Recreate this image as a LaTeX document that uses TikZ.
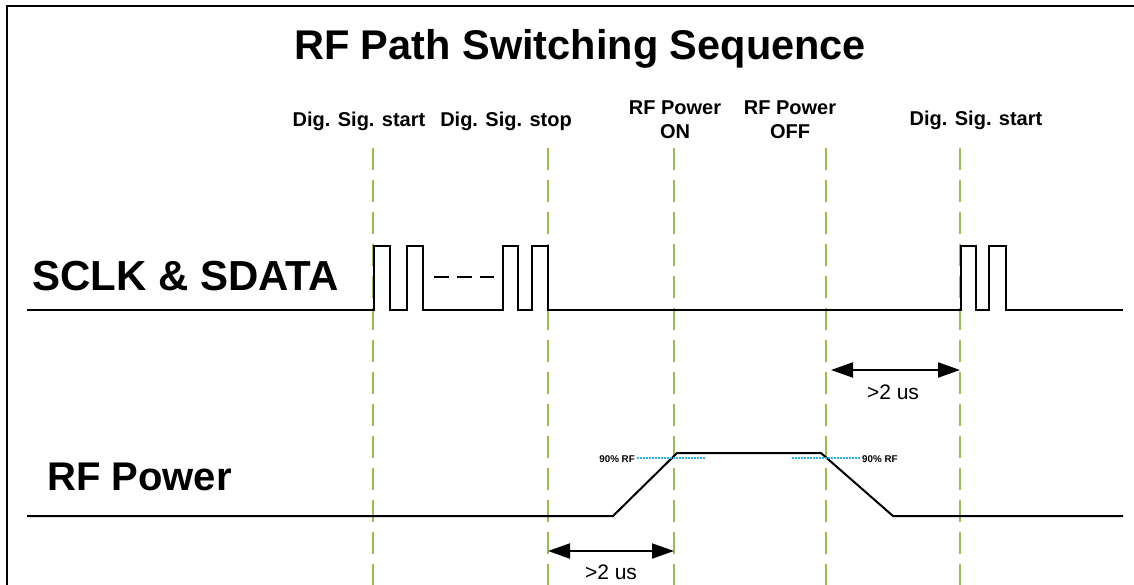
\documentclass[tikz,border=0pt]{standalone}
\usepackage{fontspec}
\setmainfont{Liberation Sans}
\usepackage{tikz}
\definecolor{markgreen}{RGB}{155,187,89}
\definecolor{levelcyan}{RGB}{40,180,235}
\usetikzlibrary{arrows.meta,positioning}

\tikzset{
	sig/.style={line width=2pt,black},
	marker/.style={markgreen,line width=2.5pt,dash pattern=on 22pt off 10pt},
	evlabel/.style={font=\bfseries\fontsize{20}{24}\selectfont,align=center},
	bigname/.style={font=\bfseries\fontsize{40}{44}\selectfont,anchor=base west,inner sep=0pt},
	levelline/.style={levelcyan,line width=1.3pt,dash pattern=on 1.5pt off 1.5pt},
	levellabel/.style={font=\bfseries\fontsize{9.8}{11}\selectfont,inner sep=1pt},
	gaparrow/.style={line width=2pt,{Triangle[length=22pt,width=15pt]}-{Triangle[length=22pt,width=15pt]}},
	gaplabel/.style={font=\fontsize{21}{24}\selectfont}
}

\begin{document}
\begin{tikzpicture}[x=1pt,y=-1pt]
						
						\useasboundingbox (0,0) rectangle (1134,585);
						\draw[line width=2.5pt] (7,640) -- (7,6) -- (1160,6);
						
						\foreach \t/\x in {dsstart/373,dsstop/548,rfon/674,rfoff/826,dsnext/960}{
							\draw[marker] (\x,148) -- (\x,592);
							\coordinate (\t) at (\x,0);
						}
						
						\node[font=\bfseries\fontsize{41.5}{46}\selectfont,anchor=base,inner sep=0pt] (title) at (580,60) {RF Path Switching Sequence};
						
						\node[evlabel,anchor=base] (startlbl) at (359,127) {Dig. Sig. start};
						\node[evlabel,anchor=base] (stoplbl) at (506,127) {Dig. Sig. stop};
						\node[evlabel] (onlbl) at (675,120) {RF Power\\ON};
						\node[evlabel] (offlbl) at (790,120) {RF Power\\OFF};
						\node[evlabel,anchor=base] (nextlbl) at (976,126) {Dig. Sig. start};
						
						\node[bigname,font=\bfseries\fontsize{42}{46}\selectfont] (sclk) at (32,290) {SCLK \& SDATA};
						\node[bigname] (rfpow) at (47,490) {RF Power};
						
						\draw[sig] (27,310) -- (374,310) -- (374,246) -- (390,246) -- (390,310) -- (407,310) -- (407,246) -- (423,246) -- (423,310)
							-- (503,310) -- (503,246) -- (518,246) -- (518,310) -- (532,310) -- (532,246) -- (548,246) -- (548,310)
							-- (961,310) -- (961,246) -- (976,246) -- (976,310) -- (989,310) -- (989,246) -- (1006,246) -- (1006,310) -- (1123,310);
						\draw[sig,dash pattern=on 15pt off 8pt] (434,277) -- (494,277);
						
						\draw[sig] (27,516) -- (613,516) -- (677,453) -- (821,453) -- (893,516) -- (1123,516);
						
						\draw[levelline] (637,458) -- (706,458);
						\node[levellabel,anchor=east] (riselvl) at (636,459) {90\% RF};
						\draw[levelline] (792,458) -- (860,458);
						\node[levellabel,anchor=west] (falllvl) at (861,459) {90\% RF};
						
						\draw[gaparrow] (dsstop |- 0,551) -- (rfon |- 0,551);
						\node[gaplabel] (gapon) at (611,572) {>2 us};
						\draw[gaparrow] ([xshift=5pt]rfoff |- 0,370) -- (dsnext |- 0,370);
						\node[gaplabel] (gapnext) at (893,392) {>2 us};
						
					\end{tikzpicture}
\end{document}
